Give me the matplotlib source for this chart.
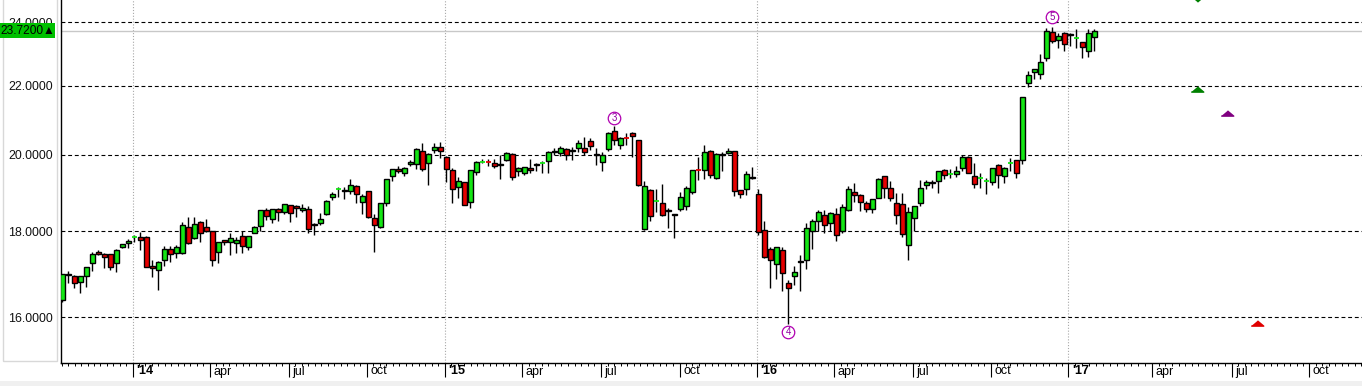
import matplotlib
matplotlib.use('Agg')
import matplotlib.pyplot as plt
from matplotlib.patches import Rectangle
from matplotlib.ticker import NullLocator
import matplotlib.transforms as mtransforms
import numpy as np

# ---------------- data (weekly candles) ----------------
opens = [16.39,16.98,16.93,16.78,16.94,17.23,17.50,17.46,17.44,17.23,
         17.63,17.71,17.86,17.86,17.87,17.16,17.08,17.31,17.57,17.47,
         17.47,18.11,17.85,18.23,18.10,18.00,17.49,17.78,17.75,17.71,
         17.89,17.61,17.96,18.13,18.53,18.31,18.56,18.48,18.67,18.64,
         18.53,18.57,18.18,18.21,18.44,18.87,19.07,19.05,19.03,19.17,
         18.75,19.02,18.34,18.11,18.72,19.44,19.62,19.52,19.76,19.74,
         20.12,19.77,20.14,20.23,19.94,19.59,19.14,19.26,18.74,19.53,
         19.81,19.80,19.78,19.75,19.86,20.02,19.57,19.50,19.63,19.71,
         19.77,19.84,20.07,20.06,20.15,20.10,20.18,20.18,20.39,20.03,
         19.80,20.16,20.66,20.26,20.47,20.61,20.40,18.05,19.05,18.77,
         18.71,18.54,18.44,18.57,18.63,19.01,19.58,19.59,20.11,19.37,
         20.00,20.05,20.11,19.05,19.07,19.40,18.94,18.04,17.57,17.21,
         17.55,16.76,16.92,17.25,17.31,18.00,18.26,18.42,18.20,18.45,
         18.02,18.55,19.01,18.93,18.73,18.56,18.86,19.44,19.11,18.73,
         18.69,17.66,18.33,18.73,19.18,19.28,19.29,19.60,19.48,19.49,
         19.64,19.94,19.43,19.37,19.29,19.27,19.73,19.44,19.77,19.85,
         19.86,22.08,22.42,22.36,22.86,23.68,23.41,23.64,23.60,23.50,
         23.35,23.08,23.53]
closes = [16.97,16.95,16.76,16.93,17.14,17.45,17.45,17.37,17.15,17.55,
          17.69,17.77,17.87,17.80,17.15,17.11,17.27,17.57,17.46,17.62,
          18.15,17.71,18.18,17.97,18.01,17.31,17.74,17.73,17.83,17.79,
          17.65,17.89,18.10,18.53,18.38,18.56,18.50,18.69,18.46,18.60,
          18.60,18.07,18.15,18.32,18.77,18.96,19.08,19.02,19.20,18.94,
          18.91,18.36,18.15,18.73,19.35,19.62,19.56,19.65,19.81,20.16,
          19.62,20.02,20.23,20.10,19.62,19.07,19.30,18.68,19.58,19.81,
          19.82,19.79,19.69,19.72,20.04,19.41,19.63,19.66,19.60,19.74,
          19.78,20.09,20.10,20.18,20.00,20.13,20.32,20.09,20.25,19.99,
          20.00,20.61,20.42,20.47,20.46,20.54,19.20,19.17,18.39,18.78,
          18.41,18.51,18.41,18.87,19.10,19.58,19.57,20.07,19.45,20.03,
          20.03,20.12,19.04,18.94,19.47,19.37,17.98,17.39,17.31,17.61,
          17.01,16.65,17.02,17.29,18.09,18.27,18.49,18.17,18.47,17.92,
          18.61,19.08,18.93,18.75,18.56,18.82,19.35,19.12,18.86,18.42,
          17.93,18.50,18.63,19.11,19.27,19.24,19.56,19.45,19.49,19.57,
          19.94,19.52,19.21,19.38,19.30,19.63,19.46,19.64,19.78,19.50,
          21.65,22.33,22.50,22.73,23.72,23.38,23.57,23.29,23.63,23.51,
          23.19,23.64,23.72]
highs = [16.98,17.04,16.95,16.94,17.15,17.51,17.55,17.47,17.44,17.57,
         17.70,17.81,17.92,17.98,17.88,17.31,17.29,17.65,17.65,17.67,
         18.23,18.36,18.36,18.25,18.31,18.00,17.75,17.79,17.97,17.87,
         18.01,17.89,18.13,18.54,18.60,18.56,18.60,18.69,18.67,18.68,
         18.69,18.64,18.21,18.46,18.79,19.00,19.13,19.14,19.35,19.20,
         18.94,19.02,18.45,18.73,19.35,19.62,19.69,19.68,19.87,20.19,
         20.32,20.05,20.32,20.37,19.97,19.63,19.41,19.26,19.60,19.83,
         19.88,19.90,19.88,20.00,20.07,20.04,19.66,19.68,19.88,19.79,
         19.82,20.11,20.18,20.25,20.18,20.22,20.42,20.51,20.47,20.18,
         20.09,20.63,20.80,20.50,20.60,20.63,20.42,19.30,19.08,19.08,
         19.21,18.58,18.44,19.01,19.15,19.60,19.93,20.26,20.14,20.06,
         20.09,20.20,20.11,19.05,19.56,19.68,19.07,18.25,17.61,17.62,
         17.61,16.84,17.16,17.42,18.21,18.30,18.53,18.55,18.49,18.59,
         18.69,19.15,19.25,18.94,18.76,18.82,19.37,19.44,19.30,18.98,
         18.98,18.62,18.63,19.33,19.33,19.33,19.57,19.62,19.62,19.70,
         20.00,19.96,19.77,19.52,19.38,19.63,19.76,19.68,19.91,19.87,
         21.67,22.45,22.52,22.98,23.80,23.84,23.64,23.67,23.66,23.78,
         23.37,23.77,23.77]
lows = [16.33,16.76,16.65,16.53,16.67,17.05,17.42,17.11,17.07,17.03,
        17.59,17.59,17.73,17.55,17.13,16.91,16.61,17.16,17.27,17.35,
        17.45,17.69,17.81,17.75,17.99,17.16,17.23,17.67,17.43,17.47,
        17.47,17.55,17.96,18.02,18.28,18.21,18.25,18.43,18.23,18.36,
        18.48,17.97,17.91,18.16,18.41,18.79,18.87,18.83,18.94,18.73,
        18.44,18.34,17.50,18.09,18.63,19.30,19.52,19.43,19.69,19.61,
        19.57,19.20,20.05,19.91,19.27,18.71,18.84,18.66,18.58,19.46,
        19.78,19.69,19.65,19.34,19.82,19.32,19.44,19.46,19.50,19.55,
        19.50,19.50,20.00,19.97,19.86,19.86,20.09,20.00,20.14,19.72,
        19.57,20.12,20.28,20.16,20.28,19.95,19.16,18.03,18.25,18.50,
        18.38,18.08,17.83,18.52,18.54,18.95,19.32,19.35,19.38,19.35,
        19.55,20.03,18.90,18.84,18.92,19.36,17.92,17.35,16.65,16.86,
        16.59,15.85,16.72,16.59,17.09,17.57,18.00,17.95,18.00,17.76,
        17.97,18.51,18.75,18.51,18.48,18.46,18.84,18.86,18.77,18.18,
        17.86,17.31,18.00,18.64,19.09,19.11,18.99,19.34,19.38,19.41,
        19.55,19.50,19.10,19.10,18.94,19.20,19.10,19.25,19.57,19.38,
        19.76,21.95,22.19,22.19,22.77,23.32,23.18,23.08,23.24,23.18,
        22.84,22.88,23.08]

last_price = 23.72

# x-axis ticks (in week-index units) and labels
xtick_pos = [11.72, 24.58, 37.75, 50.78, 63.78, 76.62, 89.78, 102.87,
             115.78, 128.68, 141.73, 154.78, 167.68, 181.62, 194.87, 207.85]
xtick_labels = ["'14", "apr", "jul", "oct", "'15", "apr", "jul", "oct",
                "'16", "apr", "jul", "oct", "'17", "apr", "jul", "oct"]

ytick_vals = [16, 18, 20, 22, 24]
ytick_labels = ["16.0000", "18.0000", "20.0000", "22.0000", "24.0000"]

# wave labels
wave_labels = ["3", "4", "5"]
wave_idx = [92, 121, 165]
wave_vals = [21.04, 15.67, 24.18]

# projection markers
proj_x = [189.17, 189.17, 194.17, 199.17]
proj_vals = [24.77, 21.91, 21.18, 15.88]
proj_dirs = ["down", "up", "up", "up"]
proj_colors = ["#008000", "#008000", "#800080", "#e00000"]

# ---------------- figure ----------------
plt.rcParams['font.family'] = ['Liberation Sans', 'DejaVu Sans']
W, H = 1362, 386
fig = plt.figure(figsize=(W / 100, H / 100), dpi=100)
fig.patch.set_facecolor('white')

# bottom gray strip
fig.add_artist(Rectangle((0, 0), 1, (H - 380.5) / H, transform=fig.transFigure,
                         facecolor='#f0f0f0', edgecolor='none', zorder=0))
# left label panel border
fig.add_artist(Rectangle((3 / W, (H - 361) / H), 54 / W, 361 / H + 0.01,
                         transform=fig.transFigure, fill=False,
                         edgecolor='#d8d8d8', lw=1.0, zorder=0))

ax = fig.add_axes([61 / W, (H - 363) / H, (W - 61) / W, 363 / H])
ax.set_facecolor('none')
ax.set_yscale('log')
ax.set_xlim(-0.2, 216.6)
ax.set_ylim(15.02, 24.75)

for s in ['top', 'right']:
    ax.spines[s].set_visible(False)
ax.spines['left'].set_linewidth(1.0)
ax.spines['bottom'].set_linewidth(1.0)

# grid lines
for v in ytick_vals:
    ax.axhline(v, color='black', lw=0.8, ls=(0, (3.5, 2.5)), zorder=1)
for t, lab in zip(xtick_pos, xtick_labels):
    if lab.startswith("'"):
        ax.axvline(t, color='#a8a8a8', lw=0.8, ls=(0, (1, 1.6)), zorder=1)
ax.axhline(last_price, color='#c8c8c8', lw=1.0, zorder=1)

# candles
o = np.array(opens); c = np.array(closes)
hi = np.array(highs); lo = np.array(lows)
x = np.arange(len(o))
ax.vlines(x, lo, hi, color='black', lw=1.0, zorder=2)
diff = c - o
doji = np.abs(diff) < 0.015
body = ~doji
cols = np.where(diff >= 0, '#14e614', '#e60000')
ax.bar(x[body], np.abs(diff)[body], bottom=np.minimum(o, c)[body], width=0.8,
       color=cols[body], edgecolor='black', linewidth=1.0, zorder=3)
ax.hlines(((o + c) / 2)[doji], x[doji] - 0.42, x[doji] + 0.42,
          colors=cols[doji], lw=1.3, zorder=3)

# wave labels (circled numbers)
for lab, i, v in zip(wave_labels, wave_idx, wave_vals):
    ax.plot([i], [v], 'o', ms=9, mfc='white', mec='#b000b0', mew=0.9, zorder=5)
    ax.text(i, v, lab, ha='center', va='center', fontsize=7,
            color='#9000a0', zorder=6)

# projection triangles
up_marker = [(-1, -0.42), (1, -0.42), (0, 0.42)]
down_marker = [(-1, 0.42), (1, 0.42), (0, -0.42)]
for px, pv, d, col in zip(proj_x, proj_vals, proj_dirs, proj_colors):
    ax.plot([px], [pv], marker=up_marker if d == 'up' else down_marker,
            ms=9, color=col, mec=col, ls='none', zorder=4)

# y ticks
ax.yaxis.set_minor_locator(NullLocator())
ax.set_yticks(ytick_vals)
ax.set_yticklabels(ytick_labels)
ax.tick_params(axis='y', length=0, pad=6, labelsize=8.9, labelcolor='#111111')

# x ticks
ax.set_xticks(xtick_pos)
ax.set_xticklabels([])
ax.tick_params(axis='x', which='major', length=10, width=0.8, direction='out')
minor = []
for a, b in zip(xtick_pos[:-1], xtick_pos[1:]):
    step = (b - a) / 12.0
    minor += [a + k * step for k in range(1, 12)]
step0 = (xtick_pos[1] - xtick_pos[0]) / 12.0
t = xtick_pos[0] - step0
while t > -0.2:
    minor.append(t); t -= step0
stepn = (xtick_pos[-1] - xtick_pos[-2]) / 12.0
t = xtick_pos[-1] + stepn
while t < 216.6:
    minor.append(t); t += stepn
ax.set_xticks(minor, minor=True)
ax.tick_params(axis='x', which='minor', length=2.3, width=0.7, direction='out')

trans = mtransforms.offset_copy(ax.get_xaxis_transform(), fig=fig, x=3.5, y=0,
                                units='dots')
for t, lab in zip(xtick_pos, xtick_labels):
    ax.text(t, -8.5 / 363, lab, transform=trans, ha='left', va='center',
            fontsize=9, fontweight='bold' if lab.startswith("'") else 'normal',
            color='black', clip_on=False)

# current price label
fig.add_artist(Rectangle((0, (H - 37.7) / H), 55 / W, 14.4 / H,
                         transform=fig.transFigure, facecolor='#00c000',
                         edgecolor='none', zorder=10))
fig.text(0.6 / W, (H - 30.6) / H, "23.7200\u25B2", ha='left', va='center',
         fontsize=8.6, color='black', zorder=11,
         family=['Liberation Sans', 'DejaVu Sans'])

fig.savefig('out.png', dpi=100)
